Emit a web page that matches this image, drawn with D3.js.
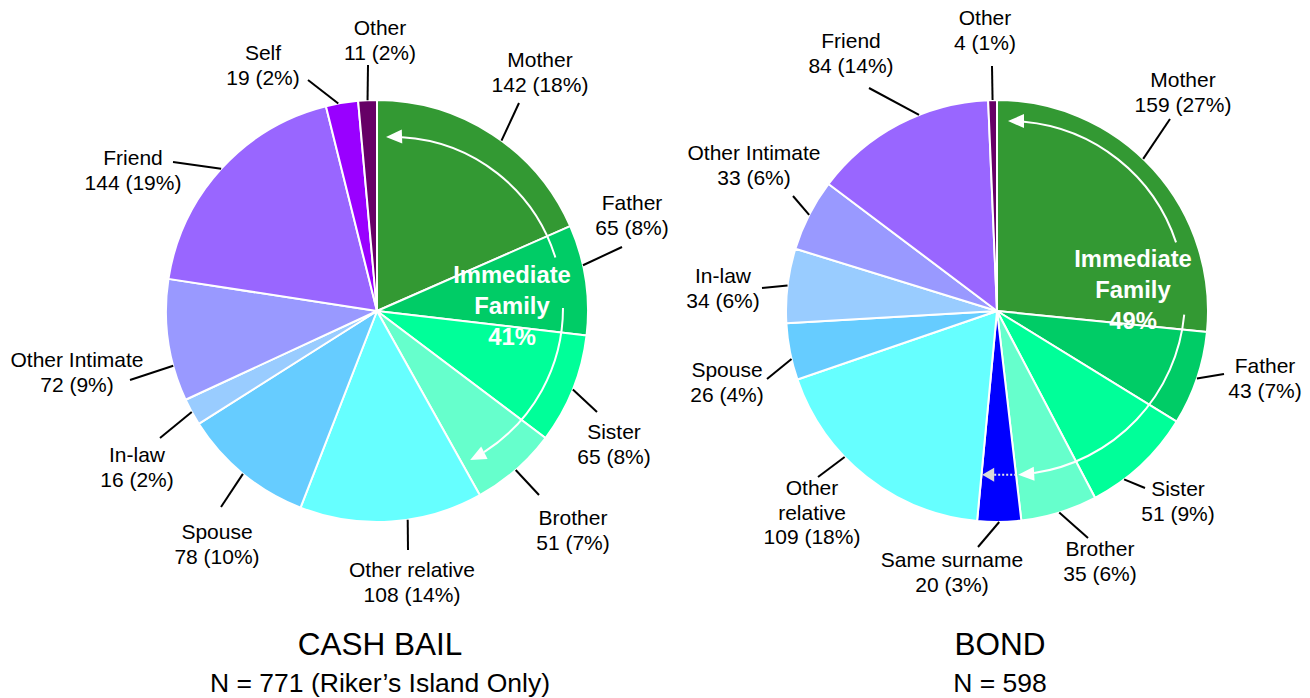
<!DOCTYPE html>
<html>
<head>
<meta charset="utf-8">
<script src="https://cdn.jsdelivr.net/npm/d3@7"></script>
<style>
  body { margin: 0; background: #fff; }
  text { font-family: Arial, "Liberation Sans", sans-serif; }
</style>
</head>
<body>
<div id="chart"></div>
<script>
// ---- data ----
var cash_names  = ["Mother", "Father", "Sister", "Brother", "Other relative", "Spouse",
                   "In-law", "Other Intimate", "Friend", "Self", "Other"];
var cash_counts = [142, 65, 65, 51, 108, 78, 16, 72, 144, 19, 11];
var cash_pcts   = [18, 8, 8, 7, 14, 10, 2, 9, 19, 2, 2];

var bond_names  = ["Mother", "Father", "Sister", "Brother", "Same surname", "Other relative",
                   "Spouse", "In-law", "Other Intimate", "Friend", "Other"];
var bond_counts = [159, 43, 51, 35, 20, 109, 26, 34, 33, 84, 4];
var bond_pcts   = [27, 7, 9, 6, 3, 18, 4, 6, 6, 14, 1];

var titles     = ["CASH BAIL", "BOND"];
var subtitles  = ["N = 771 (Riker\u2019s Island Only)", "N = 598"];
var family_pct = [41, 49];

// ---- styles / layout ----
var colors = {
  "Mother": "#339933", "Father": "#00cc66", "Sister": "#00ff99", "Brother": "#66ffcc",
  "Other relative": "#66ffff", "Same surname": "#0000ff", "Spouse": "#66ccff",
  "In-law": "#99ccff", "Other Intimate": "#9999ff", "Friend": "#9966ff",
  "Self": "#9900ff", "Other": "#660066"
};

var W = 1310, H = 698, R = 211;

// label position (lx, ly = first baseline), leader end (ex, ey), start angle offset (deg)
var cash_layout = [
  {lx: 163, ly: -244, ex: 142, ey: -208, off: 3},
  {lx: 255, ly: -101, ex: 245, ey: -64, off: -4},
  {lx: 237, ly: 128, ex: 220, ey: 101, off: 0},
  {lx: 196, ly: 214, ex: 162, ey: 184, off: 0},
  {lx: 35, ly: 266, ex: 31, ey: 239, off: -4.4},
  {lx: -160, ly: 228, ex: -156, ey: 196, off: 0},
  {lx: -240, ly: 151, ex: -217, ey: 127, off: 0},
  {lx: -300, ly: 56, ex: -247, ey: 69, off: -7},
  {lx: -244, ly: -146, ex: -204, ey: -149, off: 0},
  {lx: -114, ly: -251, ex: -69, ey: -231, off: -1},
  {lx: 3, ly: -276, ex: -9, ey: -246, off: 0}
];
var bond_layout = [
  {lx: 186, ly: -224, ex: 173, ey: -192, off: -4},
  {lx: 268, ly: 62, ex: 227, ey: 63, off: 0},
  {lx: 181, ly: 185, ex: 148, ey: 177, off: 6},
  {lx: 103, ly: 245, ex: 91, ey: 227, off: 0},
  {lx: -45, ly: 256, ex: -19, ey: 236, off: 0},
  {lx: -185, ly: 184, ex: -179, ey: 166, off: 8, wrap: true},
  {lx: -270, ly: 66, ex: -230, ey: 68, off: -2},
  {lx: -274, ly: -28, ex: -235, ey: -23, off: 0},
  {lx: -243, ly: -151, ex: -204, ey: -115, off: 0},
  {lx: -146, ly: -263, ex: -128, ey: -223, off: 6},
  {lx: -12, ly: -286, ex: -5, ey: -245, off: 0}
];

var svg = d3.select("#chart").append("svg")
    .attr("width", W)
    .attr("height", H);

var rad = Math.PI / 180;

function polar(c, r, deg) {
  return [c[0] + r * Math.sin(deg * rad), c[1] - r * Math.cos(deg * rad)];
}

function arrowHead(g, c, r, deg, dir, fill) {
  // dir = 1 clockwise, -1 counter-clockwise
  var tip = polar(c, r, deg);
  var t = [Math.cos(deg * rad) * dir, Math.sin(deg * rad) * dir];
  var n = [-t[1], t[0]];
  var len = 16, w = 7;
  var b = [tip[0] - t[0] * len, tip[1] - t[1] * len];
  g.append("path")
    .attr("d", "M" + tip + "L" + [b[0] + n[0] * w, b[1] + n[1] * w] +
               "L" + [b[0] - n[0] * w, b[1] - n[1] * w] + "Z")
    .attr("fill", fill);
  return tip;
}

function familyArrow(g, ann) {
  var c = ann.c, r = ann.r, shrink = 16 / r / rad;
  var p1 = d3.path();
  p1.arc(c[0], c[1], r, (ann.a0 + shrink - 90) * rad, (ann.a1 - 90) * rad, false);
  var p2 = d3.path();
  p2.arc(c[0], c[1], r, (ann.a2 - 90) * rad, (ann.a3 - shrink - 90) * rad, false);
  g.append("path").attr("d", p1.toString()).attr("fill", "none").attr("stroke", "#fff").attr("stroke-width", 2);
  g.append("path").attr("d", p2.toString()).attr("fill", "none").attr("stroke", "#fff").attr("stroke-width", 2);
  arrowHead(g, c, r, ann.a0, -1, "#fff");
  var tip = arrowHead(g, c, r, ann.a3, 1, "#fff");
  if (ann.extra) {
    g.append("line")
      .attr("x1", tip[0] - 2).attr("y1", tip[1])
      .attr("x2", tip[0] - 24).attr("y2", tip[1])
      .attr("stroke", "#e6e6e6").attr("stroke-width", 2)
      .attr("stroke-dasharray", "2,2");
    var t2 = [tip[0] - 36, tip[1]];
    g.append("path")
      .attr("d", "M" + t2 + "L" + [t2[0] + 12, t2[1] - 7] + "L" + [t2[0] + 12, t2[1] + 7] + "Z")
      .attr("fill", "#d9d9d9");
  }
}

function drawPie(cfg) {
  var g = svg.append("g")
      .attr("transform", "translate(" + cfg.cx + "," + cfg.cy + ")");

  var data = cfg.names.map(function(n, i) {
    return {name: n, value: cfg.counts[i], pct: cfg.pcts[i]};
  });
  var arcs = d3.pie().sort(null).value(function(d) { return d.value; })(data);
  var arc = d3.arc().innerRadius(0).outerRadius(R);

  g.selectAll("path.slice")
    .data(arcs)
    .enter()
    .append("path")
    .attr("class", "slice")
    .attr("d", arc)
    .attr("fill", function(d) { return colors[d.data.name]; })
    .attr("stroke", "#fff")
    .attr("stroke-width", 2)
    .attr("stroke-linejoin", "round");

  arcs.forEach(function(a, i) {
    var L = cfg.layout[i];
    var ang = (a.startAngle + a.endAngle) / 2 / rad + (L.off || 0);
    var s = polar([0, 0], R, ang);
    g.append("line")
      .attr("x1", s[0]).attr("y1", s[1])
      .attr("x2", L.ex).attr("y2", L.ey)
      .attr("stroke", "#000")
      .attr("stroke-width", 2);
    var lines = L.wrap ? a.data.name.split(" ") : [a.data.name];
    lines.push(a.data.value + " (" + a.data.pct + "%)");
    var t = g.append("text")
      .attr("text-anchor", "middle")
      .attr("font-size", "21px")
      .attr("fill", "#000");
    lines.forEach(function(str, k) {
      t.append("tspan").attr("x", L.lx).attr("y", L.ly + k * 24.5).text(str);
    });
  });

  familyArrow(g, cfg.ann);

  var ft = g.append("text")
    .attr("text-anchor", "middle")
    .attr("font-size", "23.8px")
    .attr("font-weight", "bold")
    .attr("fill", "#fff");
  ["Immediate", "Family", cfg.family + "%"].forEach(function(str, k) {
    ft.append("tspan").attr("x", cfg.famPos[0]).attr("y", cfg.famPos[1] + k * 31).text(str);
  });

  g.append("text")
    .attr("x", 3).attr("y", 344)
    .attr("text-anchor", "middle")
    .attr("font-size", "31.5px")
    .text(cfg.title);
  g.append("text")
    .attr("x", 3).attr("y", 381)
    .attr("text-anchor", "middle")
    .attr("font-size", "26.5px")
    .text(cfg.subtitle);
}

drawPie({
  cx: 377, cy: 311,
  names: cash_names, counts: cash_counts, pcts: cash_pcts,
  layout: cash_layout,
  title: titles[0], subtitle: subtitles[0], family: family_pct[0],
  famPos: [135, -28],
  ann: {c: [15, -3], r: 171, a0: -2, a1: 72.8, a2: 90, a3: 152.8}
});

drawPie({
  cx: 997, cy: 311,
  names: bond_names, counts: bond_counts, pcts: bond_pcts,
  layout: bond_layout,
  title: titles[1], subtitle: subtitles[1], family: family_pct[1],
  famPos: [136, -44],
  ann: {c: [11, -13], r: 177, a0: 0, a1: 71.7, a2: 95.4, a3: 176.7, extra: true}
});
</script>
</body>
</html>
